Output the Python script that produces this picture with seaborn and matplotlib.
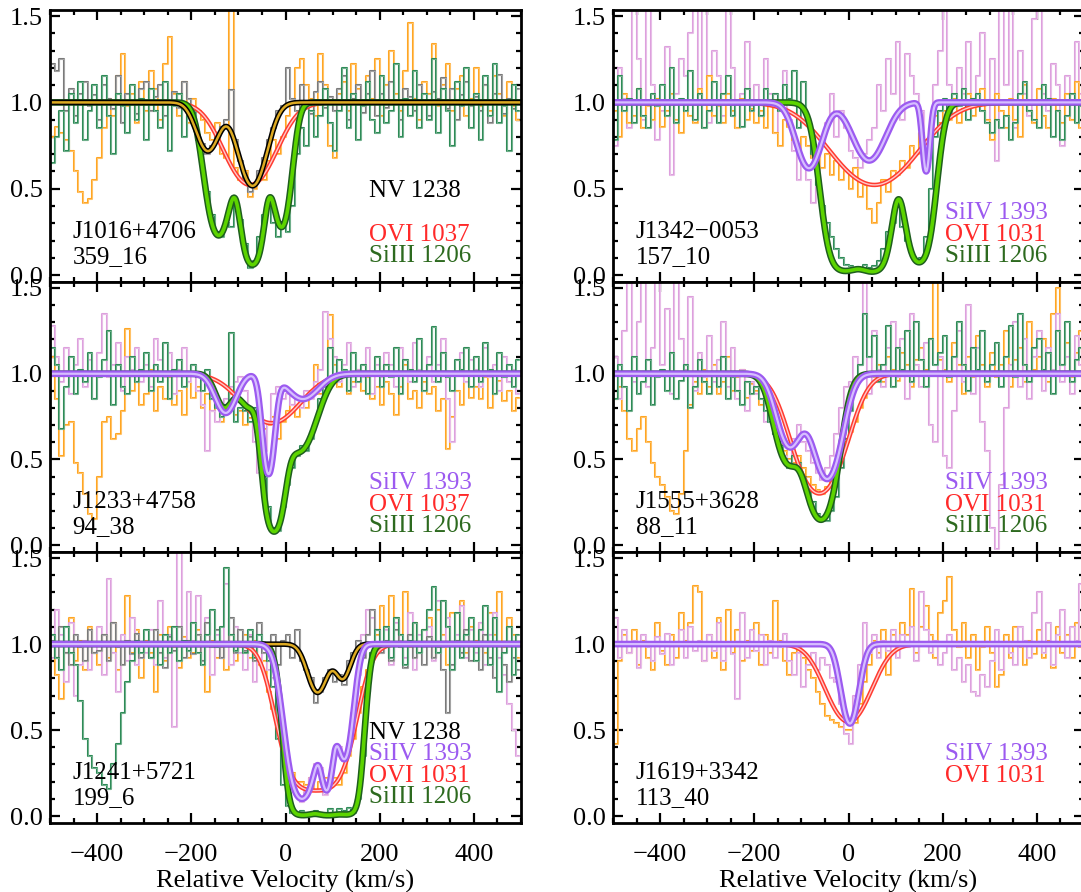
import numpy as np
import pandas as pd
import matplotlib
matplotlib.use("Agg")
import matplotlib.pyplot as plt
import seaborn as sns
from matplotlib.ticker import MultipleLocator, FormatStrFormatter

sns.set_theme(style="ticks")
plt.rcParams["font.family"] = ["Liberation Serif", "DejaVu Serif"]
plt.rcParams["axes.labelcolor"] = "black"
plt.rcParams["text.color"] = "black"
plt.rcParams["xtick.color"] = "black"
plt.rcParams["ytick.color"] = "black"

# ---------------- data ----------------
# velocity bin centres (km/s), 10 km/s bins
vel = np.arange(-495, 500, 10)
# fine grid on which the fitted profiles are evaluated
vgrid = np.linspace(-500, 500, 1001)

# ---- J1016+4706  359_16 ----
j1016_ovi = [
    0.80, 0.86, 0.82, 0.78, 0.72, 0.60, 0.48, 0.42, 0.44, 0.55,
    0.68, 0.85, 1.02, 0.92, 1.15, 1.28, 0.98, 1.05, 0.88, 1.12,
    0.95, 1.18, 1.08, 0.90, 1.22, 1.38, 1.05, 0.92, 1.12, 0.88,
    1.02, 0.95, 0.90, 0.82, 0.78, 0.88, 0.70, 0.68, 1.55, 0.62,
    0.55, 0.60, 0.45, 0.50, 0.58, 0.55, 0.66, 0.78, 0.70, 0.80,
    0.92, 1.00, 1.20, 1.25, 1.10, 1.02, 0.92, 1.28, 1.10, 0.75,
    0.68, 1.05, 1.12, 0.95, 1.22, 1.08, 0.98, 1.15, 1.02, 1.25,
    0.92, 1.10, 1.30, 1.05, 0.95, 1.18, 1.46, 1.02, 0.90, 1.12,
    1.05, 1.34, 0.98, 1.10, 1.22, 0.95, 1.08, 1.15, 0.92, 1.02,
    1.20, 0.98, 1.10, 0.95, 1.15, 1.05, 0.92, 1.12, 0.98, 0.90]
j1016_nv = [
    1.22, 1.18, 1.25, 0.95, 1.08, 0.92, 1.05, 1.12, 0.98, 1.04,
    0.90, 1.10, 1.02, 0.96, 1.15, 0.88, 1.05, 1.00, 0.93, 1.08,
    1.12, 0.95, 1.03, 1.10, 0.92, 1.00, 1.06, 0.97, 1.12, 1.02,
    0.90, 0.78, 0.76, 0.70, 0.75, 0.80, 0.86, 0.90, 1.07, 0.78,
    0.66, 0.55, 0.48, 0.52, 0.60, 0.68, 0.78, 0.85, 0.95, 0.98,
    1.20, 1.02, 0.95, 1.10, 1.00, 0.93, 1.06, 1.12, 0.97, 1.03,
    0.95, 1.08, 1.15, 0.90, 1.02, 1.10, 0.94, 1.05, 1.18, 0.92,
    1.05, 0.97, 1.12, 0.99, 0.90, 1.08, 1.03, 0.95, 1.10, 1.00,
    0.92, 1.06, 1.02, 1.14, 0.96, 1.08, 0.90, 1.04, 1.12, 0.98,
    1.03, 0.95, 1.10, 0.88, 1.05, 1.16, 0.93, 1.02, 0.96, 1.08]
j1016_siiii = [
    0.65, 0.80, 0.95, 0.72, 1.05, 0.88, 1.12, 0.78, 0.95, 1.10,
    0.85, 1.15, 0.92, 0.70, 1.05, 0.98, 0.82, 1.10, 0.90, 1.02,
    0.78, 1.08, 0.95, 0.85, 1.12, 0.72, 0.98, 1.05, 0.80, 0.92,
    0.95, 0.78, 0.60, 0.48, 0.35, 0.25, 0.22, 0.30, 0.28, 0.40,
    0.32, 0.18, 0.04, 0.08, 0.22, 0.35, 0.42, 0.30, 0.22, 0.30,
    0.25, 0.40, 0.70, 0.85, 0.75, 0.95, 0.80, 0.92, 1.08, 0.88,
    0.72, 0.95, 1.20, 0.85, 1.05, 0.78, 0.98, 1.12, 0.90, 0.82,
    1.15, 0.88, 0.95, 1.22, 0.80, 1.02, 0.92, 1.18, 0.85, 1.05,
    0.90, 1.25, 0.82, 1.08, 0.95, 0.75, 1.12, 0.98, 1.20, 0.85,
    1.05, 0.78, 1.15, 0.92, 1.22, 0.88, 0.98, 0.72, 1.10, 0.95]
# fitted components: (velocity, peak optical depth, b)
fit_j1016_nv = [(-165, 0.33, 32), (-70, 0.66, 38)]
fit_j1016_ovi = [(-75, 0.65, 68)]
fit_j1016_siiii = [(-142, 1.47, 32), (-70, 2.8, 26), (-8, 1.27, 24)]

# ---- J1342-0053  157_10 ----
j1342_siiv = [
    0.75, 1.20, 1.02, 0.85, 1.60, 1.25, 0.90, 1.60, 1.10, 0.78,
    0.95, 1.32, 0.58, 1.05, 1.25, 1.15, 1.40, 1.60, 1.05, 1.60,
    0.88, 1.30, 1.15, 0.92, 1.60, 1.20, 0.85, 1.05, 1.35, 0.98,
    1.10, 0.92, 1.25, 1.05, 0.82, 0.96, 1.18, 0.90, 0.72, 0.55,
    0.65, 0.55, 0.42, 0.60, 0.75, 0.88, 1.05, 0.80, 0.95, 0.85,
    0.72, 0.68, 0.62, 0.70, 0.78, 0.85, 1.10, 0.95, 1.25, 1.05,
    1.35, 0.90, 1.28, 1.15, 1.05, 0.95, 0.62, 0.70, 1.10, 1.30,
    1.60, 1.10, 0.92, 1.20, 1.05, 1.35, 0.98, 1.15, 1.40, 0.88,
    1.25, 0.66, 1.60, 1.10, 1.60, 0.85, 1.30, 1.05, 0.92, 1.48,
    1.60, 1.05, 0.95, 1.22, 1.10, 0.75, 1.15, 0.90, 1.35, 1.05]
j1342_ovi = [
    0.95, 0.80, 1.05, 0.88, 0.92, 1.08, 0.85, 0.98, 0.90, 1.02,
    0.86, 0.95, 1.05, 0.90, 0.82, 1.00, 0.92, 0.88, 1.08, 0.85,
    1.15, 0.92, 0.98, 0.88, 1.05, 0.95, 0.85, 1.02, 0.90, 0.96,
    0.88, 0.95, 0.85, 0.98, 0.82, 0.75, 0.90, 0.86, 0.78, 0.72,
    0.80, 0.75, 0.68, 0.72, 0.62, 0.70, 0.58, 0.66, 0.55, 0.60,
    0.50, 0.62, 0.45, 0.52, 0.38, 0.30, 0.42, 0.55, 0.48, 0.60,
    0.58, 0.66, 0.62, 0.75, 0.70, 0.82, 0.78, 0.85, 0.92, 0.88,
    0.95, 0.90, 1.02, 0.88, 0.96, 1.05, 0.92, 0.98, 1.08, 0.90,
    0.78, 1.05, 0.95, 0.85, 1.02, 0.90, 0.80, 1.10, 0.95, 0.88,
    1.08, 0.92, 0.85, 1.02, 0.95, 0.88, 1.05, 0.90, 1.12, 0.85]
j1342_siiii = [
    0.78, 1.15, 0.95, 1.02, 0.88, 1.08, 0.92, 0.85, 1.05, 0.98,
    1.10, 0.92, 1.20, 0.88, 1.02, 0.95, 1.18, 0.90, 1.05, 0.85,
    0.95, 1.12, 0.88, 1.05, 1.15, 0.92, 1.00, 0.86, 1.08, 0.95,
    1.00, 0.92, 1.08, 0.98, 1.05, 0.95, 1.10, 1.02, 1.18, 0.85,
    1.12, 0.88, 0.70, 0.52, 0.40, 0.30, 0.22, 0.15, 0.10, 0.06,
    0.05, 0.04, 0.03, 0.06, 0.04, 0.05, 0.08, 0.15, 0.25, 0.30,
    0.40, 0.28, 0.20, 0.12, 0.08, 0.10, 0.22, 0.50, 0.80, 0.95,
    1.02, 0.92, 1.05, 0.98, 1.08, 0.90, 1.02, 1.05, 0.95, 0.88,
    0.82, 0.90, 0.85, 0.92, 0.78, 0.88, 1.05, 1.12, 0.95, 0.90,
    0.85, 1.10, 1.02, 0.80, 0.95, 0.78, 0.92, 1.05, 0.88, 0.98]
fit_j1342_siiv = [(-84, 0.48, 35), (44, 0.41, 45), (165, 0.51, 10)]
fit_j1342_ovi = [(55, 0.65, 115)]
fit_j1342_siiii = [(-10, 3.6, 40), (55, 3.6, 35), (150, 2.6, 32)]

# ---- J1233+4758  94_38 ----
j1233_siiv = [
    1.28, 1.10, 0.95, 1.15, 0.88, 1.05, 1.20, 0.92, 1.08, 0.85,
    1.12, 1.35, 0.98, 1.05, 1.18, 0.90, 1.10, 1.02, 1.15, 0.95,
    1.05, 0.92, 1.20, 1.08, 0.98, 1.12, 0.88, 1.02, 1.15, 0.95,
    1.05, 0.90, 0.82, 0.55, 0.78, 0.72, 0.80, 0.85, 0.92, 0.95,
    0.98, 0.90, 0.78, 0.60, 0.42, 0.55, 0.72, 0.88, 0.92, 0.85,
    0.88, 0.82, 0.86, 0.80, 0.90, 0.85, 0.95, 1.02, 1.36, 1.20,
    1.10, 0.95, 1.05, 1.18, 0.92, 1.02, 0.98, 1.15, 0.88, 1.05,
    0.98, 1.12, 1.05, 0.92, 1.15, 1.08, 0.95, 1.18, 1.02, 0.90,
    1.10, 0.95, 1.05, 1.20, 0.85, 0.60, 1.00, 1.12, 0.95, 1.08,
    1.02, 0.92, 1.15, 0.98, 1.05, 0.90, 1.10, 0.95, 1.02, 0.88]
j1233_ovi = [
    1.10, 0.85, 0.52, 0.70, 0.72, 0.48, 0.42, 0.30, 0.18, 0.15,
    0.40, 0.72, 0.75, 0.62, 0.65, 0.78, 1.26, 0.90, 0.95, 0.82,
    0.88, 1.02, 0.78, 0.92, 0.85, 0.98, 0.82, 0.90, 0.76, 0.95,
    0.86, 0.92, 0.80, 0.88, 0.78, 0.84, 0.72, 0.80, 0.88, 0.76,
    0.78, 0.70, 0.74, 0.66, 0.72, 0.68, 0.70, 0.75, 0.62, 0.72,
    0.78, 0.82, 0.75, 0.85, 0.80, 0.90, 1.05, 0.88, 0.95, 1.34,
    1.05, 0.92, 1.00, 0.88, 0.95, 1.02, 0.90, 0.98, 0.85, 0.92,
    0.82, 0.95, 0.88, 0.76, 0.92, 1.05, 0.85, 0.90, 0.80, 0.95,
    0.88, 0.92, 0.78, 0.85, 0.56, 0.75, 0.90, 0.82, 0.95, 0.86,
    0.92, 0.85, 0.98, 0.80, 0.88, 0.96, 0.84, 0.90, 0.78, 0.86]
j1233_siiii = [
    1.15, 1.05, 0.68, 0.92, 1.10, 0.88, 1.02, 0.95, 1.12, 0.85,
    0.98, 1.08, 1.25, 0.82, 1.05, 0.92, 0.88, 1.10, 0.95, 1.02,
    1.12, 0.90, 1.05, 0.95, 1.18, 0.85, 1.02, 1.08, 0.92, 1.00,
    1.05, 0.98, 0.90, 1.02, 0.85, 0.80, 0.75, 0.82, 1.24, 0.72,
    0.80, 0.78, 0.72, 0.80, 0.65, 0.40, 0.22, 0.10, 0.08, 0.22,
    0.35, 0.45, 0.52, 0.58, 0.55, 0.62, 0.72, 0.85, 0.92, 1.15,
    0.95, 1.08, 1.02, 0.90, 1.12, 0.95, 1.05, 0.88, 1.00, 1.10,
    0.92, 1.05, 0.98, 1.15, 0.88, 1.08, 1.02, 0.95, 1.20, 0.90,
    1.05, 1.27, 0.95, 1.12, 0.98, 0.90, 1.08, 1.02, 1.15, 0.92,
    1.10, 0.95, 1.18, 1.02, 0.88, 1.12, 0.98, 1.05, 0.92, 1.08]
fit_j1233_siiv = [(-127, 0.26, 30), (-36, 0.87, 16), (37, 0.16, 45)]
fit_j1233_ovi = [(-30, 0.34, 80)]
fit_j1233_siiii = [(-130, 0.22, 25), (-80, 0.20, 25), (-25, 2.4, 24), (30, 0.6, 45)]

# ---- J1555+3628  88_11 ----
j1555_siiv = [
    1.10, 0.85, 1.25, 1.53, 0.95, 1.30, 1.60, 0.92, 1.15, 1.60,
    1.05, 1.38, 0.88, 1.60, 1.20, 1.02, 1.45, 0.90, 1.12, 0.98,
    1.22, 0.95, 1.08, 1.30, 0.92, 1.15, 0.85, 1.02, 0.78, 0.95,
    0.88, 0.95, 0.72, 0.80, 0.65, 0.58, 0.52, 0.48, 0.62, 0.70,
    0.60, 0.55, 0.48, 0.42, 0.38, 0.45, 0.52, 0.65, 0.80, 0.92,
    0.95, 1.10, 1.05, 1.60, 0.88, 1.25, 1.02, 0.92, 1.15, 1.30,
    0.98, 1.20, 0.85, 1.35, 1.05, 0.92, 1.18, 0.70, 0.60, 1.10,
    0.52, 0.45, 0.78, 1.25, 0.95, 1.40, 0.88, 1.15, 0.72, 0.55,
    0.10, -0.02, 0.35, 0.80, 1.05, 1.30, 0.92, 1.20, 0.85, 1.10,
    1.25, 0.90, 1.15, 1.02, 1.35, 0.95, 1.10, 0.88, 1.22, 1.05]
j1555_ovi = [
    0.85, 0.92, 0.78, 0.62, 0.55, 0.68, 0.75, 0.60, 0.48, 0.40,
    0.35, 0.28, 0.20, 0.18, 0.30, 0.55, 0.82, 0.95, 0.88, 1.02,
    0.92, 1.05, 0.88, 0.95, 1.10, 0.90, 0.98, 1.02, 0.86, 0.94,
    0.90, 0.82, 0.88, 0.75, 0.70, 0.62, 0.55, 0.50, 0.48, 0.52,
    0.45, 0.40, 0.35, 0.32, 0.30, 0.34, 0.38, 0.45, 0.52, 0.60,
    0.66, 0.72, 0.80, 0.86, 0.92, 0.98, 1.05, 0.95, 1.10, 1.02,
    0.96, 1.12, 1.05, 0.92, 1.08, 1.15, 1.02, 1.20, 1.55, 1.08,
    1.02, 0.95, 1.18, 1.05, 0.88, 1.10, 0.98, 1.22, 1.05, 0.92,
    1.12, 0.98, 1.05, 1.25, 0.92, 1.08, 1.15, 0.95, 1.30, 1.02,
    1.10, 1.20, 0.95, 1.35, 1.50, 1.05, 1.18, 0.98, 1.12, 1.25]
j1555_siiii = [
    0.85, 1.05, 0.92, 0.78, 1.10, 0.88, 0.95, 1.08, 0.82, 0.98,
    1.02, 0.90, 1.12, 0.85, 0.96, 1.05, 0.80, 0.92, 1.08, 0.95,
    0.88, 1.00, 0.92, 1.10, 0.85, 0.98, 0.90, 0.82, 0.95, 0.88,
    0.92, 0.85, 0.78, 0.72, 0.65, 0.58, 0.50, 0.45, 0.52, 0.48,
    0.40, 0.32, 0.25, 0.18, 0.15, 0.14, 0.20, 0.28, 0.45, 0.62,
    0.78, 0.92, 1.05, 1.35, 1.10, 1.22, 0.95, 1.05, 1.28, 0.92,
    1.15, 1.02, 1.25, 0.95, 1.30, 1.08, 0.92, 1.20, 1.05, 1.12,
    1.22, 0.98, 1.10, 1.30, 1.05, 0.90, 1.15, 1.02, 1.25, 0.95,
    1.05, 1.18, 0.92, 1.10, 1.28, 0.98, 1.35, 1.05, 0.95, 1.15,
    1.20, 1.02, 1.12, 0.88, 1.25, 1.05, 1.30, 0.95, 1.08, 1.15]
fit_j1555_siiv = [(-125, 0.55, 35), (-45, 0.95, 38)]
fit_j1555_ovi = [(-62, 1.2, 65)]
fit_j1555_siiii = [(-130, 0.7, 35), (-58, 1.9, 38)]

# ---- J1241+5721  199_6 ----
j1241_siiv = [
    0.92, 1.20, 1.05, 0.78, 1.12, 0.70, 0.88, 1.02, 0.85, 0.95,
    1.10, 0.82, 1.38, 0.95, 0.72, 1.05, 0.90, 1.15, 0.88, 1.00,
    0.95, 1.08, 0.88, 1.25, 0.92, 1.05, 0.52, 1.55, 0.98, 1.30,
    1.02, 1.28, 0.90, 1.15, 0.82, 1.05, 0.92, 1.35, 0.88, 1.10,
    0.95, 0.85, 1.05, 0.78, 0.90, 0.95, 0.85, 0.80, 0.62, 0.45,
    0.30, 0.18, 0.12, 0.08, 0.14, 0.22, 0.30, 0.28, 0.12, 0.20,
    0.35, 0.40, 0.32, 0.42, 0.60, 0.82, 1.05, 1.20, 1.15, 0.95,
    0.95, 1.08, 0.88, 1.12, 1.02, 0.92, 1.18, 0.85, 1.05, 0.98,
    1.10, 0.90, 1.25, 0.98, 1.15, 0.85, 1.05, 1.22, 0.92, 1.08,
    0.95, 1.12, 0.88, 1.05, 1.18, 0.92, 0.82, 0.65, 0.50, 0.35]
j1241_ovi = [
    1.05, 0.82, 0.68, 0.95, 1.15, 0.90, 1.02, 0.85, 1.10, 0.95,
    0.88, 1.05, 0.92, 1.12, 0.85, 1.00, 1.28, 0.95, 1.08, 0.80,
    1.02, 0.95, 0.72, 1.05, 0.90, 1.10, 0.98, 0.86, 1.04, 0.92,
    0.95, 1.08, 0.88, 0.72, 1.02, 0.92, 0.98, 0.85, 1.05, 0.90,
    0.98, 1.05, 0.92, 1.02, 0.88, 0.90, 0.72, 0.62, 0.50, 0.40,
    0.30, 0.25, 0.20, 0.20, 0.18, 0.22, 0.15, 0.20, 0.22, 0.20,
    0.22, 0.18, 0.25, 0.35, 0.45, 0.60, 0.75, 0.85, 0.95, 1.05,
    1.22, 1.10, 1.28, 1.15, 1.05, 1.30, 0.98, 1.12, 0.95, 1.08,
    1.15, 0.92, 1.20, 1.05, 0.88, 1.18, 1.02, 1.25, 0.95, 1.10,
    1.02, 1.12, 0.95, 1.18, 1.05, 1.30, 0.98, 1.15, 1.05, 0.92]
j1241_nv = [
    1.02, 0.92, 1.10, 0.95, 0.88, 1.05, 0.98, 0.90, 1.08, 0.95,
    0.96, 1.05, 0.90, 1.12, 0.98, 0.88, 1.02, 0.94, 1.06, 0.92,
    1.00, 0.92, 1.08, 0.95, 0.86, 1.04, 0.96, 1.10, 0.92, 1.02,
    0.94, 1.05, 0.90, 1.12, 0.98, 1.08, 0.92, 1.00, 1.15, 0.95,
    1.08, 0.96, 1.04, 0.90, 1.12, 0.95, 0.98, 1.05, 0.88, 1.02,
    1.05, 0.92, 1.08, 0.90, 0.85, 0.80, 0.66, 0.72, 0.80, 0.85,
    0.78, 0.82, 0.76, 0.90, 0.95, 1.02, 0.92, 1.05, 1.20, 1.08,
    0.95, 1.02, 0.90, 1.08, 0.98, 0.86, 1.05, 0.92, 1.00, 0.88,
    1.04, 0.92, 0.98, 0.85, 0.60, 0.88, 1.02, 0.95, 1.08, 0.90,
    0.98, 0.85, 1.05, 0.92, 0.80, 1.00, 0.88, 0.78, 0.92, 0.85]
j1241_siiii = [
    1.05, 0.92, 0.85, 1.10, 0.95, 0.88, 0.67, 0.45, 0.35, 0.28,
    0.25, 0.18, 0.16, 0.30, 0.42, 0.60, 0.78, 0.90, 1.02, 0.95,
    1.08, 0.92, 1.00, 0.88, 1.05, 0.95, 1.10, 0.90, 1.02, 0.96,
    1.12, 0.95, 0.88, 1.05, 1.20, 0.98, 1.10, 1.44, 1.05, 0.96,
    1.00, 0.95, 1.08, 0.92, 1.05, 0.98, 0.90, 0.75, 0.45, 0.18,
    0.06, 0.02, 0.01, 0.03, 0.02, 0.01, 0.03, 0.02, 0.01, 0.04,
    0.02, 0.04, 0.03, 0.05, 0.02, 0.10, 0.35, 0.72, 0.95, 1.08,
    0.98, 1.10, 0.92, 1.15, 1.05, 0.88, 1.02, 1.12, 0.95, 1.08,
    1.20, 1.33, 0.95, 1.25, 1.10, 0.85, 1.18, 0.92, 1.05, 1.15,
    0.90, 1.08, 1.22, 0.88, 1.15, 0.72, 0.95, 1.10, 0.82, 1.05]
fit_j1241_nv = [(68, 0.33, 28), (122, 0.22, 22)]
fit_j1241_siiv = [(35, 2.3, 35), (88, 1.6, 15), (125, 1.1, 22)]
fit_j1241_ovi = [(30, 1.5, 52), (100, 1.5, 52)]
fit_j1241_siiii = [(35, 5.0, 30), (90, 5.0, 30), (135, 4.0, 25)]

# ---- J1619+3342  113_40 ----
j1619_siiv = [
    1.15, 0.92, 1.08, 0.95, 1.02, 0.86, 1.05, 0.98, 0.90, 1.04,
    0.94, 1.06, 0.88, 1.00, 1.08, 0.92, 1.10, 0.96, 1.02, 0.90,
    1.05, 0.96, 1.12, 0.90, 1.00, 0.94, 0.68, 1.18, 0.92, 1.08,
    0.96, 1.05, 0.88, 1.02, 0.92, 0.98, 1.06, 0.90, 0.82, 0.95,
    0.75, 0.88, 0.95, 0.85, 0.92, 0.88, 0.80, 0.78, 0.65, 0.48,
    0.42, 0.70, 0.88, 1.12, 0.95, 1.05, 0.92, 1.02, 0.96, 1.08,
    0.92, 1.05, 0.98, 1.10, 0.90, 1.30, 1.08, 0.95, 1.02, 0.88,
    0.95, 1.05, 0.85, 0.92, 0.78, 0.88, 0.72, 0.70, 0.82, 0.75,
    0.90, 1.08, 0.85, 1.00, 0.95, 0.88, 1.10, 1.02, 0.92, 1.18,
    1.30, 0.95, 1.12, 0.88, 1.05, 1.20, 0.92, 1.10, 1.02, 1.35]
j1619_ovi = [
    0.42, 0.90, 1.05, 0.95, 1.08, 0.88, 1.02, 0.92, 0.85, 1.12,
    0.96, 0.88, 1.05, 0.92, 1.18, 1.02, 1.12, 1.34, 1.30, 0.90,
    1.05, 0.92, 1.15, 0.85, 1.20, 0.95, 1.08, 0.90, 1.02, 0.96,
    1.12, 0.88, 1.05, 0.95, 1.25, 1.02, 0.90, 0.82, 0.95, 1.00,
    0.92, 0.85, 0.80, 0.72, 0.65, 0.58, 0.56, 0.54, 0.52, 0.50,
    0.50, 0.54, 0.65, 0.78, 0.88, 1.02, 0.95, 1.08, 0.82, 1.05,
    0.98, 1.12, 1.05, 1.32, 0.95, 1.10, 1.22, 1.05, 0.92, 1.18,
    1.25, 1.39, 1.08, 0.98, 1.12, 0.92, 1.05, 0.85, 0.98, 1.10,
    0.95, 0.75, 0.82, 1.05, 0.92, 1.10, 0.98, 0.88, 1.02, 0.94,
    1.08, 0.92, 1.02, 0.86, 1.10, 0.95, 1.05, 0.92, 1.12, 0.98]
fit_j1619_siiv = [(3, 0.62, 24)]
fit_j1619_ovi = [(0, 0.6, 60)]

# ---------------- styles ----------------
hist_color = {"ovi": "#FFA623", "nv": "#7A7A7A", "siiv": "#DDA0DD", "siiii": "#2E8B57"}
fit_style = {  # outer colour, inner colour, outer width, inner width
    "ovi": ("#FF3B30", "#FFC8C8", 3.2, 1.0),
    "siiii": ("#1E5E1E", "#5CD400", 4.8, 2.6),
    "nv": ("#000000", "#DDAA22", 4.0, 1.8),
    "siiv": ("#9C5AF0", "#D6BEFF", 4.8, 1.6),
}
text_color = {"ovi": "#FF2A2A", "nv": "#000000", "siiv": "#9C5AF0", "siiii": "#2D6A1F"}
slot_y = [0.11, 0.235, 0.36, 0.485]


def profile(comps):
    tau = np.zeros_like(vgrid)
    for v0, t0, b in comps:
        tau += t0 * np.exp(-((vgrid - v0) / b) ** 2)
    return np.exp(-tau)


panels = [
    dict(name="J1016+4706", ident="359_16", col=0, row=0,
         spectra=[("ovi", j1016_ovi), ("nv", j1016_nv), ("siiii", j1016_siiii)],
         fits=[("ovi", fit_j1016_ovi), ("siiii", fit_j1016_siiii), ("nv", fit_j1016_nv)],
         labels=[("nv", "NV 1238", 3), ("ovi", "OVI 1037", 1), ("siiii", "SiIII 1206", 0)]),
    dict(name="J1342\u22120053", ident="157_10", col=1, row=0,
         spectra=[("siiv", j1342_siiv), ("ovi", j1342_ovi), ("siiii", j1342_siiii)],
         fits=[("ovi", fit_j1342_ovi), ("siiii", fit_j1342_siiii), ("siiv", fit_j1342_siiv)],
         labels=[("siiv", "SiIV 1393", 2), ("ovi", "OVI 1031", 1), ("siiii", "SiIII 1206", 0)]),
    dict(name="J1233+4758", ident="94_38", col=0, row=1,
         spectra=[("ovi", j1233_ovi), ("siiv", j1233_siiv), ("siiii", j1233_siiii)],
         fits=[("ovi", fit_j1233_ovi), ("siiii", fit_j1233_siiii), ("siiv", fit_j1233_siiv)],
         labels=[("siiv", "SiIV 1393", 2), ("ovi", "OVI 1037", 1), ("siiii", "SiIII 1206", 0)]),
    dict(name="J1555+3628", ident="88_11", col=1, row=1,
         spectra=[("ovi", j1555_ovi), ("siiv", j1555_siiv), ("siiii", j1555_siiii)],
         fits=[("ovi", fit_j1555_ovi), ("siiii", fit_j1555_siiii), ("siiv", fit_j1555_siiv)],
         labels=[("siiv", "SiIV 1393", 2), ("ovi", "OVI 1031", 1), ("siiii", "SiIII 1206", 0)]),
    dict(name="J1241+5721", ident="199_6", col=0, row=2,
         spectra=[("ovi", j1241_ovi), ("siiv", j1241_siiv), ("nv", j1241_nv), ("siiii", j1241_siiii)],
         fits=[("ovi", fit_j1241_ovi), ("siiii", fit_j1241_siiii), ("nv", fit_j1241_nv), ("siiv", fit_j1241_siiv)],
         labels=[("nv", "NV 1238", 3), ("siiv", "SiIV 1393", 2), ("ovi", "OVI 1031", 1), ("siiii", "SiIII 1206", 0)]),
    dict(name="J1619+3342", ident="113_40", col=1, row=2,
         spectra=[("ovi", j1619_ovi), ("siiv", j1619_siiv)],
         fits=[("ovi", fit_j1619_ovi), ("siiv", fit_j1619_siiv)],
         labels=[("siiv", "SiIV 1393", 2), ("ovi", "OVI 1031", 1)]),
]

# ---------------- layout ----------------
W, H = 1081, 892
fig = plt.figure(figsize=(W / 100, H / 100), dpi=100)
col_x = [50, 613]
ax_w = 471
row_top = [10, 282, 552]
row_h = [272, 270, 271]
label_x = [178, 205]

for p in panels:
    c, r = p["col"], p["row"]
    ax = fig.add_axes([col_x[c] / W, (H - row_top[r] - row_h[r]) / H, ax_w / W, row_h[r] / H])

    for ion, vals in p["spectra"]:
        df = pd.DataFrame({"v": vel, "f": vals})
        sns.lineplot(data=df, x="v", y="f", ax=ax, color=hist_color[ion], lw=1.5,
                     drawstyle="steps-mid", estimator=None, sort=False, legend=False)
        sns.lineplot(data=df, x="v", y="f", ax=ax, color="white", lw=0.45, alpha=0.5,
                     drawstyle="steps-mid", estimator=None, sort=False, legend=False)

    for ion, comps in p["fits"]:
        oc, ic, ow, iw = fit_style[ion]
        fdf = pd.DataFrame({"v": vgrid, "f": profile(comps)})
        sns.lineplot(data=fdf, x="v", y="f", ax=ax, color=oc, lw=ow,
                     estimator=None, sort=False, legend=False)
        sns.lineplot(data=fdf, x="v", y="f", ax=ax, color=ic, lw=iw,
                     estimator=None, sort=False, legend=False)

    ax.set_xlim(-500, 500)
    ax.set_ylim(-0.04, 1.535)
    ax.xaxis.set_major_locator(MultipleLocator(200))
    ax.xaxis.set_minor_locator(MultipleLocator(50))
    ax.yaxis.set_major_locator(MultipleLocator(0.5))
    ax.yaxis.set_minor_locator(MultipleLocator(0.1))
    ax.yaxis.set_major_formatter(FormatStrFormatter("%.1f"))
    ax.tick_params(which="both", direction="in", top=True, right=True,
                   width=1.6, colors="black", labelsize=19)
    ax.tick_params(which="major", length=7)
    ax.tick_params(which="minor", length=3.5)
    ax.tick_params(axis="y", pad=5)
    ax.tick_params(axis="x", pad=15)
    for s in ax.spines.values():
        s.set_linewidth(2.0)
        s.set_color("black")
        s.set_visible(True)
    ax.set_ylabel("")
    if r == 2:
        ax.set_xlabel("Relative Velocity (km/s)", fontsize=19, labelpad=3, color="black")
    else:
        ax.set_xlabel("")
        ax.tick_params(labelbottom=False)

    ax.text(-452, 0.25, p["name"], fontsize=18, va="center", ha="left", color="black")
    ax.text(-452, 0.105, p["ident"], fontsize=18, va="center", ha="left", color="black")
    for ion, txt, slot in p["labels"]:
        ax.text(label_x[c], slot_y[slot], txt, fontsize=18, va="center", ha="left",
                color=text_color[ion])

fig.savefig("out.png", dpi=100)
